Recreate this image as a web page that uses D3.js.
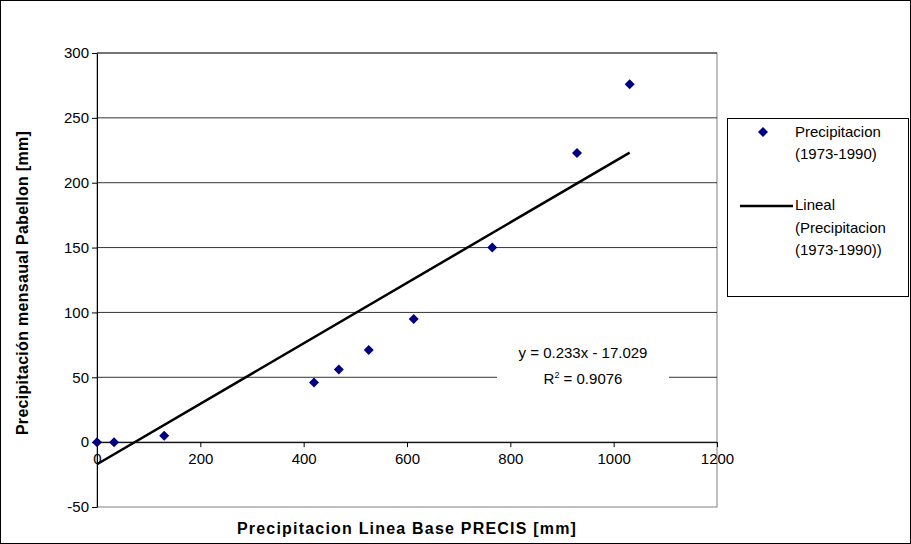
<!DOCTYPE html>
<html><head><meta charset="utf-8">
<script src="https://cdn.jsdelivr.net/npm/d3@7"></script>
<style>body{margin:0;background:#fff}text{font-family:"Liberation Sans",Arial,sans-serif}</style>
</head><body><div id="chart"></div>
<script>
var xVals = [0, 33, 130, 420, 468, 526, 613, 765, 929, 1031];
var yVals = [0, 0, 5, 46, 56, 71, 95, 150, 223, 276];
var xTicks = [0, 200, 400, 600, 800, 1000, 1200];
var yTicks = [-50, 0, 50, 100, 150, 200, 250, 300];
var slope = 0.233, intercept = -17.029;

var w = 911, h = 544;
var svg = d3.select("div#chart").append("svg").attr("width", w).attr("height", h);
svg.append("rect").attr("x",0.5).attr("y",0.5).attr("width",w-1).attr("height",h-1).attr("fill","#fff").attr("stroke","#000");

var x = d3.scaleLinear().domain([0,1200]).range([97,717]);
var y = d3.scaleLinear().domain([-50,300]).range([507,53]);

// plot area
svg.append("rect").attr("x",97).attr("y",53).attr("width",620).attr("height",454).attr("fill","none").attr("stroke","#808080");
svg.selectAll(".grid").data(yTicks.filter(function(d){return d>-50;})).enter().append("line")
  .attr("x1",97).attr("x2",717).attr("y1",function(d){return y(d);}).attr("y2",function(d){return y(d);})
  .attr("stroke","#000").attr("stroke-width",0.8);

var fmt = function(d){return String(d);};
var xAxis = svg.append("g").attr("transform","translate(0,"+y(0)+")")
  .call(d3.axisBottom(x).tickValues(xTicks).tickFormat(fmt).tickSize(5).tickSizeOuter(0));
var yAxis = svg.append("g").attr("transform","translate("+x(0)+",0)")
  .call(d3.axisLeft(y).tickValues(yTicks).tickFormat(fmt).tickSize(5).tickSizeOuter(0));
[xAxis,yAxis].forEach(function(a){
  a.select(".domain").attr("stroke","#000");
  a.selectAll("text").attr("font-size",15).attr("fill","#000").style("font-family","Liberation Sans, Arial");
});
xAxis.selectAll("text").attr("dy","0.9em");

// trendline
svg.append("line").attr("x1",x(0)).attr("y1",y(intercept)).attr("x2",x(1031)).attr("y2",y(slope*1031+intercept))
  .attr("stroke","#000").attr("stroke-width",2.5);

// points
svg.selectAll(".pt").data(xVals).enter().append("path")
  .attr("d", d3.symbol().type(d3.symbolSquare).size(50))
  .attr("transform",function(d,i){return "translate("+x(d)+","+y(yVals[i])+") rotate(45)";})
  .attr("fill","#000080");

// equation
svg.append("rect").attr("x",497).attr("y",337).attr("width",172).attr("height",50).attr("fill","#fff");
svg.append("text").attr("x",583).attr("y",358).attr("text-anchor","middle").attr("font-size",15).text("y = 0.233x - 17.029");
var r = svg.append("text").attr("x",583).attr("y",384).attr("text-anchor","middle").attr("font-size",15);
r.append("tspan").text("R");
r.append("tspan").attr("font-size",9).attr("dy",-6).text("2");
r.append("tspan").attr("dy",6).text(" = 0.9076");

// axis titles
svg.append("text").attr("x",407).attr("y",534).attr("text-anchor","middle").attr("font-size",16).attr("letter-spacing",1.2).attr("font-weight","bold").text("Precipitacion Linea Base PRECIS [mm]");
svg.append("text").attr("transform","translate(28,283) rotate(-90)").attr("text-anchor","middle").attr("font-size",16).attr("letter-spacing",0.3).attr("font-weight","bold").text("Precipitación mensaual Pabellon [mm]");

// legend
svg.append("rect").attr("x",727.5).attr("y",118.5).attr("width",181).attr("height",178).attr("fill","#fff").attr("stroke","#000");
svg.append("path").attr("d", d3.symbol().type(d3.symbolSquare).size(50)).attr("transform","translate(763,132) rotate(45)").attr("fill","#000080");
var l1 = svg.append("text").attr("font-size",15);
l1.append("tspan").attr("x",795).attr("y",137).text("Precipitacion");
l1.append("tspan").attr("x",795).attr("y",159).text("(1973-1990)");
svg.append("line").attr("x1",740).attr("x2",793).attr("y1",206).attr("y2",206).attr("stroke","#000").attr("stroke-width",2.5);
var l2 = svg.append("text").attr("font-size",15);
["Lineal","(Precipitacion","(1973-1990))"].forEach(function(s,i){
  l2.append("tspan").attr("x",795).attr("y",210+i*22.5).text(s);
});
</script></body></html>
